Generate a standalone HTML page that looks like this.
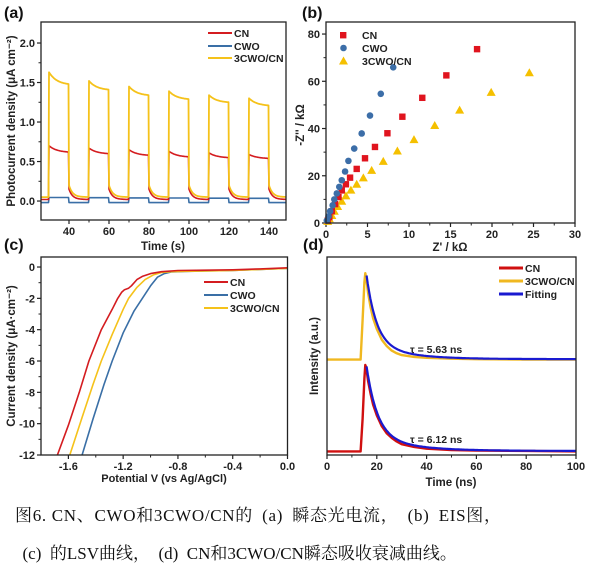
<!DOCTYPE html>
<html><head><meta charset="utf-8"><style>
body{margin:0;background:#fff;}
svg{display:block;}
text{font-family:"Liberation Sans",Arial,sans-serif;}
.tk{font-size:11px;font-weight:bold;fill:#222;}
.ti{font-size:11.5px;font-weight:bold;fill:#222;}
.pl{font-size:16px;font-weight:bold;fill:#111;}
.lg{font-size:10.5px;font-weight:bold;fill:#222;}
.cap{font-family:"Liberation Serif","Noto Serif CJK SC",serif;font-size:17px;fill:#111;}
</style></head><body>
<svg id="fig" width="604" height="578" viewBox="0 0 604 578" xmlns="http://www.w3.org/2000/svg">
<rect x="0" y="0" width="604" height="578" fill="#fff"/>
<text class="cap" x="15" y="521" textLength="486" lengthAdjust="spacing">图6. CN、CWO和3CWO/CN的&#8194;(a)&#8194;瞬态光电流，&#8194;(b)&#8194;EIS图，</text>
<text class="cap" x="14" y="559">&#8194;(c)&#8194;的LSV曲线，&#8194;(d)&#8194;CN和3CWO/CN瞬态吸收衰减曲线。</text>
</svg>
<script>
// ---------- Panel (a) data ----------
const aOnTimes=[30,50,70,90,110,130];
const aOnDuration=10;
const aHybridPeak=[1.63,1.52,1.45,1.39,1.34,1.30];
const aHybridEnd=[1.48,1.41,1.34,1.29,1.25,1.21];
const aCNPeak=[0.70,0.67,0.65,0.63,0.61,0.59];
const aCNEnd=[0.62,0.60,0.58,0.56,0.55,0.54];
const aCWOOn=[0.045,0.042,0.040,0.038,0.036,0.035];
const aDarkHybrid=0.05, aDarkCN=0.02, aDarkCWO=-0.02;
const aSpikeHybrid=0.20, aSpikeCN=0.15;
const aXTicks=[40,60,80,100,120,140];
const aYTicks=[0,0.5,1.0,1.5,2.0];
// ---------- Panel (b) data ----------
const bCNx=[0.2,0.4,0.7,1.1,1.5,1.9,2.4,2.9,3.7,4.7,5.9,7.4,9.2,11.6,14.5,18.2];
const bCNy=[1,2.5,5,8,11,13.8,16.4,19.2,22.9,27.4,32.2,38,45,53,62.5,73.6];
const bCWOx=[0.1,0.3,0.5,0.8,1.0,1.3,1.6,1.9,2.3,2.7,3.4,4.3,5.3,6.6,8.1];
const bCWOy=[1,2.8,5,7.5,10,12.5,15.3,18.1,21.8,26.3,31.5,37.9,45.5,54.7,65.9];
const bHybx=[0.2,0.4,0.7,1.0,1.4,1.9,2.4,3.0,3.7,4.5,5.5,6.9,8.6,10.6,13.1,16.1,19.9,24.5];
const bHyby=[0.7,1.8,3.2,5,7,9.2,11.5,13.9,16.4,19.1,22.3,26.1,30.5,35.3,41.3,47.8,55.3,63.6];
const bXTicks=[0,5,10,15,20,25,30];
const bYTicks=[0,20,40,60,80];
// ---------- Panel (c) data ----------
const cCNv=[-1.68,-1.60,-1.52,-1.45,-1.36,-1.28,-1.24,-1.21,-1.19,-1.16,-1.14,-1.10,-1.06,-1.00,-0.92,-0.80,-0.60,-0.40,-0.20,0.0];
const cCNj=[-12,-10.1,-8.0,-6.0,-4.0,-2.7,-2.0,-1.6,-1.45,-1.35,-1.2,-0.8,-0.6,-0.42,-0.3,-0.22,-0.2,-0.18,-0.12,-0.05];
const cCWOv=[-1.50,-1.42,-1.34,-1.28,-1.20,-1.12,-1.06,-1.00,-0.95,-0.90,-0.85,-0.75,-0.60,-0.40,-0.20,0.0];
const cCWOj=[-12,-9.7,-7.5,-6.0,-4.2,-2.8,-2.0,-1.2,-0.65,-0.42,-0.32,-0.28,-0.25,-0.22,-0.15,-0.08];
const cHybv=[-1.59,-1.50,-1.42,-1.36,-1.28,-1.20,-1.16,-1.10,-1.04,-0.98,-0.92,-0.85,-0.75,-0.60,-0.40,-0.20,0.0];
const cHybj=[-12,-9.6,-7.5,-6.0,-4.3,-2.7,-2.0,-1.3,-0.8,-0.5,-0.35,-0.3,-0.27,-0.25,-0.22,-0.15,-0.08];
const cXTicks=[-1.6,-1.2,-0.8,-0.4,0.0];
const cYTicks=[0,-2,-4,-6,-8,-10,-12];
// ---------- Panel (d) data ----------
const dTime=[0,12,13.5,14.3,15.0,15.4,15.8,16.5,17.5,18.5,20,22,24,26,28,30,35,40,50,60,80,100];
const dCN=[0.04,0.04,0.04,0.40,0.85,1.0,0.97,0.82,0.68,0.56,0.44,0.32,0.24,0.19,0.15,0.12,0.09,0.07,0.055,0.05,0.045,0.04];
const dHyb=[1.06,1.06,1.06,1.50,1.92,2.02,1.96,1.80,1.64,1.52,1.40,1.28,1.21,1.16,1.13,1.11,1.09,1.08,1.07,1.065,1.06,1.06];
const dTau=[6.12,5.63];
const dFitStart=[15.9,15.9];
const dFitAmp=[0.94,0.93];
const dFitBase=[0.045,1.065];
const dXTicks=[0,20,40,60,80,100];

const NS='http://www.w3.org/2000/svg';
const svg=document.getElementById('fig');
function mk(tag,attrs,name,parent){
  const el=document.createElementNS(NS,tag);
  for(const k in attrs) el.setAttribute(k,attrs[k]);
  
  
  (parent||svg).appendChild(el);
  return el;
}
function txt(s,x,y,cls,name,anchor,parent){
  const t=mk('text',{x:x,y:y,class:cls,'text-anchor':anchor||'start'},name,parent);
  t.textContent=s;return t;
}
function panel(c){
  const g=mk('g',{},c.name);
  const sx=v=>c.L+(v-c.xd[0])/(c.xd[1]-c.xd[0])*(c.R-c.L);
  const sy=v=>c.B-(v-c.yd[0])/(c.yd[1]-c.yd[0])*(c.B-c.T);
  c.xt.forEach(v=>{
    mk('line',{x1:sx(v),x2:sx(v),y1:c.B,y2:c.B+4,stroke:'#222','stroke-width':1.2},'x-tick',g);
    txt(c.xf(v),sx(v),c.B+15,'tk','x-tick-label','middle',g);
  });
  if(c.xm) for(let i=0;i<c.xt.length-1;i++){const m=(c.xt[i]+c.xt[i+1])/2;
    mk('line',{x1:sx(m),x2:sx(m),y1:c.B,y2:c.B+2.5,stroke:'#222','stroke-width':1},'x-minor-tick',g);}
  if(c.yt) c.yt.forEach(v=>{
    mk('line',{x1:c.L-4,x2:c.L,y1:sy(v),y2:sy(v),stroke:'#222','stroke-width':1.2},'y-tick',g);
    txt(c.yf(v),c.L-6,sy(v)+4,'tk','y-tick-label','end',g);
  });
  if(c.yt) for(let i=0;i<c.yt.length-1;i++){const m=(c.yt[i]+c.yt[i+1])/2;
    mk('line',{x1:c.L-2.5,x2:c.L,y1:sy(m),y2:sy(m),stroke:'#222','stroke-width':1},'y-minor-tick',g);}
  return {g,sx,sy};
}
function frame(c,g){
  mk('rect',{x:c.L,y:c.T,width:c.R-c.L,height:c.B-c.T,fill:'none',stroke:'#222','stroke-width':1.3},'plot-frame',g);
}
function poly(pts,color,w,name,g){
  mk('polyline',{points:pts.map(p=>p[0].toFixed(1)+','+p[1].toFixed(1)).join(' '),fill:'none',stroke:color,'stroke-width':w,'stroke-linejoin':'round'},name,g);
}
function legendLine(x,y,color,label,g,w){
  mk('line',{x1:x,x2:x+24,y1:y,y2:y,stroke:color,'stroke-width':w||2},'legend-line',g);
  txt(label,x+26,y+4,'lg','legend-label','start',g);
}
const RED='#d41c20',BLUE='#3a6fa6',YEL='#f5c21a';

// ===== Panel a =====
const ca={name:'panel-a',L:41,R:286,T:22,B:220,xd:[26,148.5],yd:[-0.24,2.266],xt:aXTicks,yt:aYTicks,xm:true,xf:v=>String(v),yf:v=>v.toFixed(1)};
const A=panel(ca);
function aSeries(peaks,ends,dark,spike,onVals){
  const pts=[];
  for(let t=26;t<=148.5;t+=0.25){
    let v=dark,idx=-1,last=-1;
    for(let i=0;i<aOnTimes.length;i++){ if(t>=aOnTimes[i]) last=i; if(t>=aOnTimes[i]&&t<aOnTimes[i]+aOnDuration) idx=i; }
    if(idx>=0){
      const dt=t-aOnTimes[idx];
      if(onVals) v=onVals[idx];
      else { const f=(1-Math.exp(-dt/4))/(1-Math.exp(-aOnDuration/4)); v=peaks[idx]-(peaks[idx]-ends[idx])*f; }
    } else if(last>=0 && spike!==null){
      const dt=t-(aOnTimes[last]+aOnDuration);
      v=dark+(spike-dark)*Math.exp(-dt/1.8);
    }
    pts.push([A.sx(t),A.sy(v)]);
  }
  return pts;
}
poly(aSeries(null,null,aDarkCWO,null,aCWOOn),BLUE,1.6,'series-cwo-photocurrent',A.g);
poly(aSeries(aCNPeak,aCNEnd,aDarkCN,aSpikeCN,null),RED,1.6,'series-cn-photocurrent',A.g);
poly(aSeries(aHybridPeak,aHybridEnd,aDarkHybrid,aSpikeHybrid,null),YEL,1.8,'series-3cwo-cn-photocurrent',A.g);
frame(ca,A.g);
legendLine(208,33,RED,'CN',A.g);legendLine(208,46,BLUE,'CWO',A.g);legendLine(208,58,YEL,'3CWO/CN',A.g);
txt('Time (s)',163,250,'ti','x-axis-title','middle',A.g);
txt('Photocurrent density (μA cm⁻²)',0,0,'ti','y-axis-title','middle',A.g).setAttribute('transform','translate(15,121) rotate(-90)');
txt('(a)',4,18,'pl','panel-label-a','start',A.g);

// ===== Panel b =====
const cb={name:'panel-b',L:326,R:575,T:22,B:223,xd:[0,30],yd:[0,85.1],xt:bXTicks,yt:bYTicks,xm:true,xf:v=>String(v),yf:v=>String(v)};
const B=panel(cb);
bHybx.forEach((x,i)=>{const X=B.sx(x),Y=B.sy(bHyby[i]);
  mk('polygon',{points:`${X},${Y-4.5} ${X-4.5},${Y+3.5} ${X+4.5},${Y+3.5}`,fill:'#f5c000'},'point-3cwo-cn',B.g);});
bCNx.forEach((x,i)=>{mk('rect',{x:B.sx(x)-3.2,y:B.sy(bCNy[i])-3.2,width:6.4,height:6.4,fill:'#e0141e'},'point-cn',B.g);});
bCWOx.forEach((x,i)=>{mk('circle',{cx:B.sx(x),cy:B.sy(bCWOy[i]),r:3.3,fill:'#3c6ea8'},'point-cwo',B.g);});
frame(cb,B.g);
mk('rect',{x:340,y:32,width:6.4,height:6.4,fill:'#e0141e'},'legend-marker-cn',B.g);txt('CN',362,39,'lg','legend-label','start',B.g);
mk('circle',{cx:343.5,cy:48,r:3.3,fill:'#3c6ea8'},'legend-marker-cwo',B.g);txt('CWO',362,52,'lg','legend-label','start',B.g);
mk('polygon',{points:'343.5,56.5 339,64.5 348,64.5',fill:'#f5c000'},'legend-marker-3cwo-cn',B.g);txt('3CWO/CN',362,65,'lg','legend-label','start',B.g);
txt("Z' / kΩ",450,251,'ti','x-axis-title','middle',B.g);
txt("-Z'' / kΩ",0,0,'ti','y-axis-title','middle',B.g).setAttribute('transform','translate(304,125) rotate(-90)');
txt('(b)',302,18,'pl','panel-label-b','start',B.g);

// ===== Panel c =====
const cc={name:'panel-c',L:41,R:287.5,T:257,B:455,xd:[-1.8,0],yd:[-12,0.64],xt:cXTicks,yt:cYTicks,xm:true,xf:v=>v.toFixed(1),yf:v=>String(v)};
const C=panel(cc);
const clip=mk('clipPath',{id:'clipc'},'clip-c',C.g);
mk('rect',{x:cc.L,y:cc.T,width:cc.R-cc.L,height:cc.B-cc.T},'clip-rect',clip);
const cg=mk('g',{'clip-path':'url(#clipc)'},'lsv-series',C.g);
poly(cCWOv.map((v,i)=>[C.sx(v),C.sy(cCWOj[i])]),BLUE,1.6,'series-cwo-lsv',cg);
poly(cHybv.map((v,i)=>[C.sx(v),C.sy(cHybj[i])]),YEL,1.6,'series-3cwo-cn-lsv',cg);
poly(cCNv.map((v,i)=>[C.sx(v),C.sy(cCNj[i])]),RED,1.6,'series-cn-lsv',cg);
frame(cc,C.g);
legendLine(204,282,RED,'CN',C.g);legendLine(204,295,BLUE,'CWO',C.g);legendLine(204,308,YEL,'3CWO/CN',C.g);
txt('Potential V (vs Ag/AgCl)',164,482,'tk','x-axis-title','middle',C.g);
txt('Current density (μA·cm⁻²)',0,0,'ti','y-axis-title','middle',C.g).setAttribute('transform','translate(15,356) rotate(-90)');
txt('(c)',4,250,'pl','panel-label-c','start',C.g);

// ===== Panel d =====
const cd={name:'panel-d',L:327,R:576,T:257,B:455,xd:[0,100],yd:[0,2.2],xt:dXTicks,yt:null,xm:true,xf:v=>String(v)};
const D=panel(cd);
poly(dTime.map((t,i)=>[D.sx(t),D.sy(dCN[i])]),'#d01010',2.4,'series-cn-decay',D.g);
poly(dTime.map((t,i)=>[D.sx(t),D.sy(dHyb[i])]),'#f0b820',2.4,'series-3cwo-cn-decay',D.g);
[0,1].forEach(k=>{
  const pts=[];
  for(let t=dFitStart[k];t<=100;t+=0.5){
    const v=dFitBase[k]+dFitAmp[k]*(0.8*Math.exp(-(t-dFitStart[k])/(dTau[k]*0.7))+0.2*Math.exp(-(t-dFitStart[k])/(dTau[k]*2.5)));
    pts.push([D.sx(t),D.sy(v)]);
  }
  poly(pts,'#1a1ad0',2.2,k===0?'fit-cn':'fit-3cwo-cn',D.g);
});
frame(cd,D.g);
legendLine(499,268,'#d01010','CN',D.g,3);legendLine(499,281,'#f0b820','3CWO/CN',D.g,3);legendLine(499,294,'#1a1ad0','Fitting',D.g,3);
txt('τ = 5.63 ns',410,353,'lg','tau-label-3cwo-cn','start',D.g);
txt('τ = 6.12 ns',410,443,'lg','tau-label-cn','start',D.g);
txt('Time (ns)',451,486,'ti','x-axis-title','middle',D.g);
txt('Intensity (a.u.)',0,0,'ti','y-axis-title','middle',D.g).setAttribute('transform','translate(318,356) rotate(-90)');
txt('(d)',303,250,'pl','panel-label-d','start',D.g);
</script>
</body></html>
